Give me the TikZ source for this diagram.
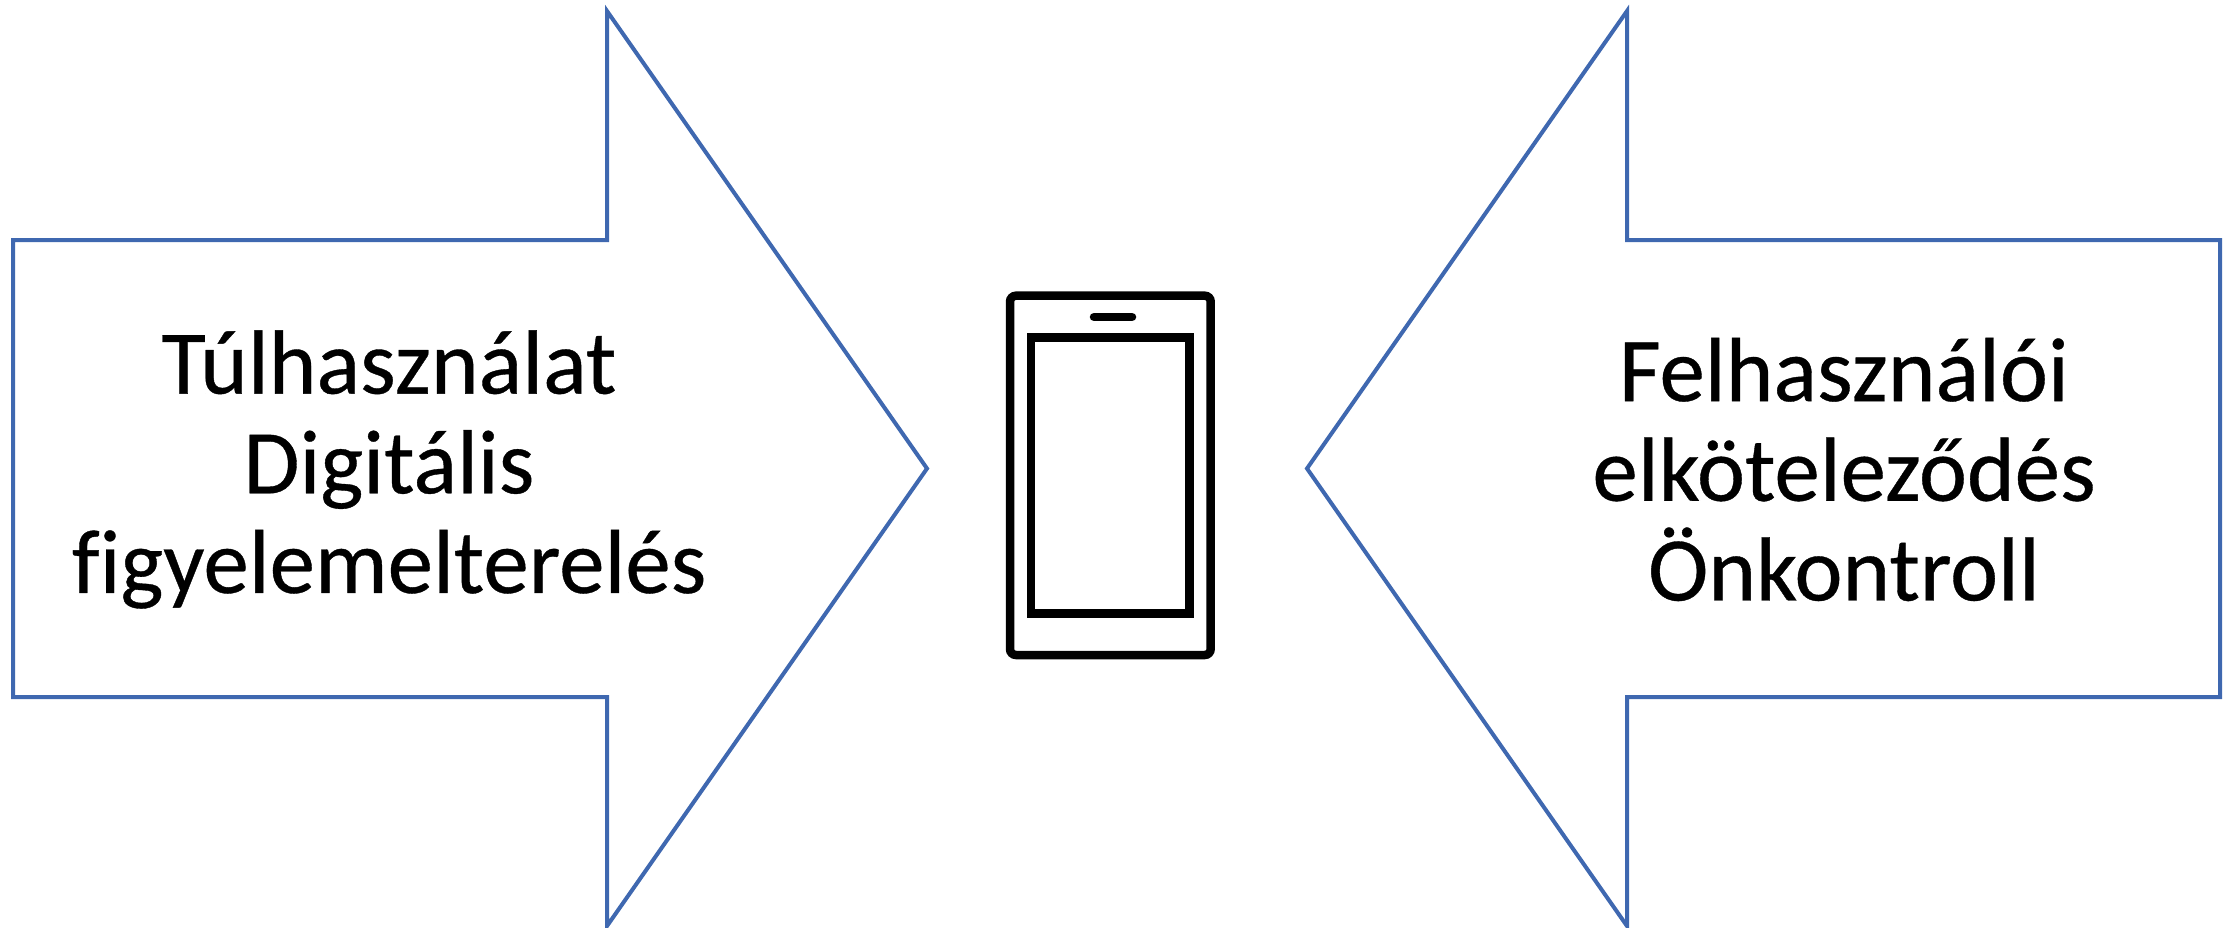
\documentclass[tikz,border=0pt]{standalone}
\usepackage{fontspec}
\setmainfont[Ligatures=NoCommon,FakeBold=0.4]{Carlito}
\definecolor{arrowblue}{HTML}{3F68B0}
\tikzset{
  bigarrow/.style={draw=arrowblue,line width=4pt,miter limit=20,line join=miter},
  phoneline/.style={draw=black,line width=8.5pt},
  label/.style={font=\fontsize{91}{99.7}\selectfont,align=center,inner sep=0pt,text=black}
}
\begin{document}
\begin{tikzpicture}[x=1pt,y=-1pt]
\useasboundingbox (0,0) rectangle (2233,927);
\draw[bigarrow] (13,240) -- (607,240) -- (607,11) -- (927,468.5) -- (607,926) -- (607,697) -- (13,697) -- cycle;
\draw[bigarrow] (2220,240) -- (1627,240) -- (1627,11) -- (1307,468.5) -- (1627,926) -- (1627,697) -- (2220,697) -- cycle;
\node[label] (left) at (389,469.5) {Túlhasználat\\Digitális\\figyelemelterelés};
\node[label] (right) at (1844,469.5) {Felhasználói\\elköteleződés\\Önkontroll};
\draw[phoneline,rounded corners=6pt] (1010,295.7) rectangle (1210.7,655);
\draw[phoneline] (1031,337.3) rectangle (1189.7,613.3);
\draw[phoneline,line cap=round] (1094,317) -- (1132,317);
\end{tikzpicture}
\end{document}
